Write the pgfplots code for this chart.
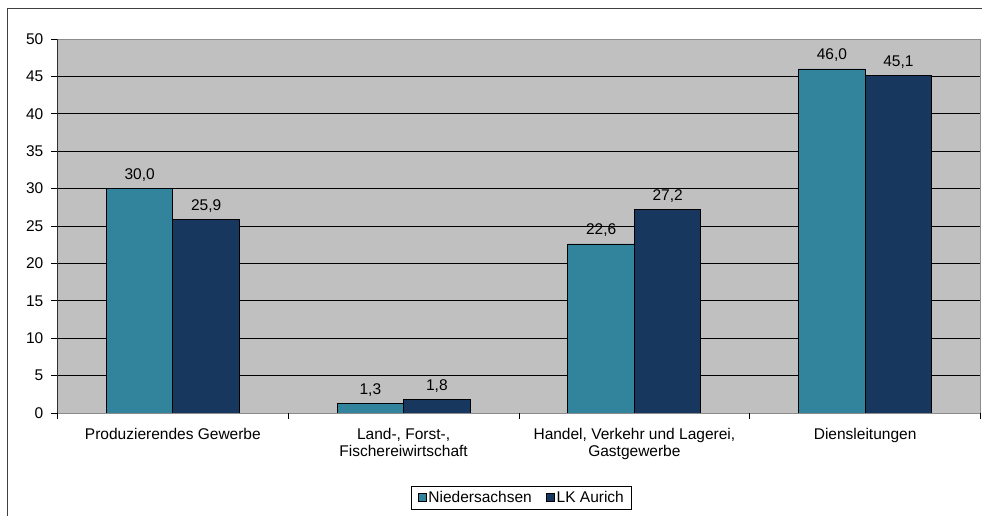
\documentclass[border=0pt]{standalone}
\usepackage{pgfplots}
\pgfplotsset{compat=1.18}
\usepackage{fontspec}
\setmainfont{Liberation Sans}
\definecolor{teal1}{HTML}{31849B}
\definecolor{navy1}{HTML}{17375E}
\definecolor{plotbg}{HTML}{C0C0C0}
\newcommand{\lf}{\fontsize{15.5}{17}\selectfont}
\begin{document}
\begin{tikzpicture}[x=1pt,y=1pt]
\useasboundingbox (-57.5,-103) rectangle (924.5,413);
\draw[line width=1.2pt, black!75] (-50,-103) -- (-50,404.5) -- (924.5,404.5);
\begin{axis}[
  scale only axis, width=923pt, height=374pt,
  ybar=0pt, bar width=66.5pt,
  xmin=-0.5, xmax=3.5, ymin=0, ymax=50,
  axis background/.style={fill=plotbg},
  axis line style={draw=black!45, line width=0.8pt},
  ytick={0,5,...,50},
  xtick pos=bottom, ytick pos=left,
  ymajorgrids, major grid style={draw=black, line width=0.8pt},
  tick align=outside, major tick length=6pt,
  ytick style={draw=black, line width=0.8pt},
  xtick={0,1,2,3},
  xticklabels={Produzierendes Gewerbe,{Land-, Forst-,\\Fischereiwirtschaft},{Handel, Verkehr und Lagerei,\\Gastgewerbe},Diensleitungen},
  x tick style={draw=none},
  extra x ticks={-0.5,0.5,1.5,2.5,3.5},
  extra x tick labels={},
  extra x tick style={x tick style={draw=black, line width=0.8pt}, grid=none, xtick pos=bottom},
  x tick label style={font=\lf, align=center, anchor=north, inner sep=0pt, yshift=-9pt},
  y tick label style={font=\lf, anchor=east, inner sep=0pt, xshift=-8pt},
  /pgf/number format/assume math mode=true,
  nodes near coords={\pgfmathprintnumber[fixed,zerofill,precision=1,use comma,assume math mode=true]{\pgfplotspointmeta}},
  every node near coord/.append style={font=\lf, anchor=base, inner sep=0pt, yshift=9pt, text=black},
  legend style={at={(0.503,-0.227)}, anchor=center, draw=black, line width=0.8pt, fill=white, font=\lf,
    legend columns=2, inner xsep=6pt, inner ysep=3pt,
    /tikz/every even column/.append style={column sep=12pt}},
  legend image code/.code={\draw[#1, draw=black, line width=0.8pt] (0pt,-4pt) rectangle (8pt,4pt);},
]
\addplot[fill=teal1, draw=black, line width=0.8pt] coordinates {(0,30.0) (1,1.3) (2,22.6) (3,46.0)};
\addplot[fill=navy1, draw=black, line width=0.8pt] coordinates {(0,25.9) (1,1.8) (2,27.2) (3,45.1)};
\legend{Niedersachsen, LK Aurich}
\draw[black, line width=0.9pt] (rel axis cs:0,0) -- (rel axis cs:0,1);
\draw[black, line width=0.9pt] (rel axis cs:0,0) -- (rel axis cs:1,0);
\end{axis}
\end{tikzpicture}
\end{document}
